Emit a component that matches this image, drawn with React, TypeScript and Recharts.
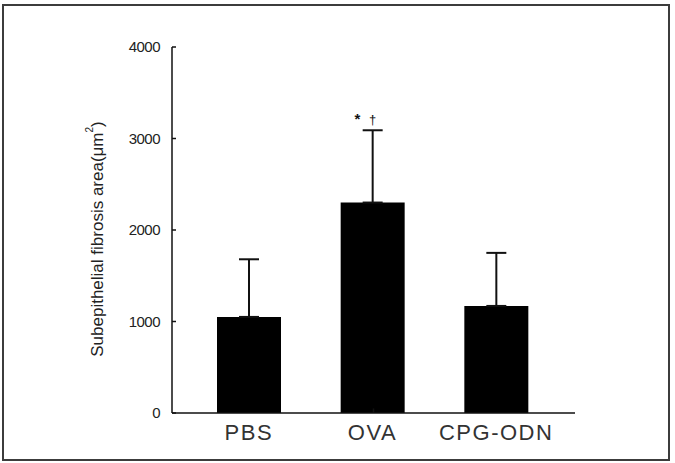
import React from "react";
import {
  BarChart,
  Bar,
  XAxis,
  YAxis,
  ErrorBar,
  ReferenceDot,
  ReferenceLine,
} from "recharts";

// Group names, mean fibrosis area and upper error (SD), μm²
const groups = ["PBS", "OVA", "CPG-ODN"];
const meanArea = [1050, 2300, 1170];
const errorUp = [630, 790, 580];
const yTicks = [0, 1000, 2000, 3000, 4000];
const sigGroup = "OVA";
const sigMarks = ["*", "†"];

const data = groups.map((g, i) => ({
  group: g,
  area: meanArea[i],
  err: [0, errorUp[i]],
}));

const sigIndex = groups.indexOf(sigGroup);
const sigY = meanArea[sigIndex] + errorUp[sigIndex];

const FONT = "'Liberation Sans', Arial, sans-serif";

const YLabel = (props: any) => {
  const vb = props.viewBox || {};
  const cx = vb.x + 15;
  const cy = vb.y + vb.height / 2 + 9;
  return (
    <text
      x={cx}
      y={cy}
      transform={`rotate(-90 ${cx} ${cy})`}
      textAnchor="middle"
      dominantBaseline="central"
      fontFamily={FONT}
      fontSize={17}
      fill="#222"
    >
      <tspan>Subepithelial fibrosis area(μm</tspan>
      <tspan dy={-8} fontSize={10}>2</tspan>
      <tspan dy={8}>)</tspan>
    </text>
  );
};

const SigLabel = (props: any) => {
  const vb = props.viewBox || {};
  const cx = vb.x + (vb.width || 0) / 2;
  const cy = vb.y + (vb.height || 0) / 2;
  return (
    <g fontFamily={FONT} fill="#111">
      <text x={cx - 15} y={cy - 6} textAnchor="middle" fontSize={15} fontWeight="bold">
        {sigMarks[0]}
      </text>
      <text x={cx} y={cy - 6} textAnchor="middle" fontSize={13} fill="#111">
        {sigMarks[1]}
      </text>
    </g>
  );
};

export default function App() {
  return (
    <div
      style={{
        position: "absolute",
        left: 0,
        top: 0,
        width: 675,
        height: 463,
        background: "#fff",
      }}
    >
      <div
        style={{
          position: "absolute",
          left: 2,
          top: 4,
          width: 664,
          height: 453,
          border: "2px solid #3c3c3c",
        }}
      />
      <BarChart
        width={675}
        height={463}
        data={data}
        margin={{ top: 47, right: 100, bottom: 20, left: 82 }}
        style={{ position: "absolute", left: 0, top: 0 }}
      >
        <XAxis
          dataKey="group"
          padding={{ left: 15, right: 17 }}
          axisLine={{ stroke: "#111", strokeWidth: 1.5 }}
          tickLine={false}
          tickSize={0}
          tickMargin={11}
          height={30}
          tick={{ fontFamily: FONT, fontSize: 22, fill: "#333", letterSpacing: 1.5 }}
          interval={0}
        />
        <XAxis xAxisId="edge" type="number" domain={[0, 1]} hide />
        <YAxis
          domain={[0, 4000]}
          ticks={yTicks}
          width={90}
          axisLine={{ stroke: "#111", strokeWidth: 1.5 }}
          tickLine={{ stroke: "#111", strokeWidth: 1.5 }}
          tickSize={-4}
          tickMargin={16}
          tick={{ fontFamily: FONT, fontSize: 15, fill: "#222", letterSpacing: -0.5 }}
          label={<YLabel />}
        />
        <Bar dataKey="area" fill="#000" barSize={64} isAnimationActive={false}>
          <ErrorBar
            dataKey="err"
            direction="y"
            width={10}
            stroke="#111"
            strokeWidth={2}
          />
        </Bar>
        <ReferenceLine
          xAxisId="edge"
          segment={[
            { x: 1, y: 0 },
            { x: 1, y: 50 },
          ]}
          stroke="#111"
          strokeWidth={1.5}
        />
        <ReferenceDot
          x={sigGroup}
          y={sigY}
          r={0}
          fill="none"
          stroke="none"
          label={<SigLabel />}
        />
      </BarChart>
    </div>
  );
}
